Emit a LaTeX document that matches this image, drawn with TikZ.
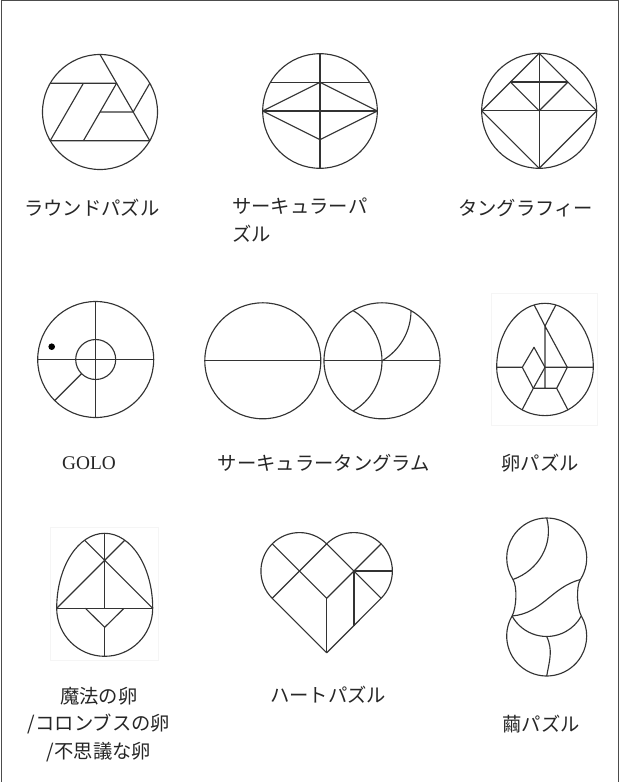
\documentclass[tikz,border=0pt]{standalone}
\usepackage{fontspec}
\setmainfont{Liberation Serif}
\newfontfamily\jpfont{Noto Sans CJK JP}
\definecolor{inkgray}{rgb}{0.2,0.2,0.2}
\definecolor{framegray}{rgb}{0.3,0.3,0.3}
\definecolor{boxgray}{rgb}{0.96,0.96,0.96}
\tikzset{
  puzzle/.style={
    draw=inkgray,
    line width=0.85pt,
    line join=round
  },
  faint/.style={
    draw=boxgray,
    line width=0.6pt
  },
  caption/.style={
    font=\jpfont\fontsize{14.5}{20.5}\selectfont,
    inner sep=0pt,
    text=black!85
  }
}
\begin{document}
\begin{tikzpicture}[x=0.75pt,y=0.75pt]
\useasboundingbox (0,0) rectangle (619,-782);
\draw[framegray,line width=0.75pt] (1,-782) -- (1,-0.5) -- (618,-0.5) -- (618,-782);

% ラウンドパズル
\begin{scope}[shift={(100,-112)}]
  \draw[puzzle] (0,0) circle[radius=57.5];
  \draw[puzzle] (90:57.5) -- (-30:57.5) -- (210:57.5);
  \draw[puzzle] (150:57.5) -- (16.6,28.75) -- (-16.6,-28.75);
  \draw[puzzle] (210:57.5) -- (-16.6,28.75);
  \draw[puzzle] (0,0) -- (33.2,0) -- (30:57.5);
\end{scope}

% サーキュラーパズル
\begin{scope}[shift={(320,-111)}]
  \draw[puzzle] (0,0) circle[radius=57.3];
  \draw[puzzle] (90:57.3) -- (270:57.3);
  \draw[puzzle] (180:57.3) -- (0:57.3);
  \draw[puzzle] (150:57.3) -- (30:57.3);
  \draw[puzzle] (180:57.3) -- (0,28.65) -- (0:57.3) -- (0,-28.65) -- cycle;
\end{scope}

% タングラフィー
\begin{scope}[shift={(539.2,-110.8)}]
  \draw[puzzle] (0,0) circle[radius=57.5];
  \draw[puzzle] (90:57.5) -- (270:57.5);
  \draw[puzzle] (180:57.5) -- (0:57.5);
  \draw[puzzle] (0:57.5) -- (90:57.5) -- (180:57.5) -- (270:57.5) -- cycle;
  \draw[puzzle] (-28.75,28.75) -- (28.75,28.75);
  \draw[puzzle] (-28.75,28.75) -- (0,0) -- (28.75,28.75);
\end{scope}

% GOLO
\begin{scope}[shift={(95.7,-359.5)}]
  \draw[puzzle] (0,0) circle[radius=58];
  \draw[puzzle] (0,0) circle[radius=20];
  \draw[puzzle] (90:58) -- (270:58);
  \draw[puzzle] (180:58) -- (0:58);
  \draw[puzzle] (225:20) -- (225:58);
  \fill[black] (-44,12.8) circle[radius=3.3];
\end{scope}

% サーキュラータングラム
\begin{scope}[shift={(262.8,-360.8)}]
  \draw[puzzle] (0,0) circle[radius=58];
  \draw[puzzle] (180:58) -- (0:58);
\end{scope}
\begin{scope}[shift={(382,-360.8)}]
  \draw[puzzle] (0,0) circle[radius=58];
  \draw[puzzle] (180:58) -- (0:58);
  \draw[puzzle] (120:58) arc[start angle=60,end angle=-60,radius=58];
  \draw[puzzle] (0,0) arc[start angle=-60,end angle=0,radius=58];
\end{scope}

% 卵パズル
\begin{scope}[shift={(545,-367.3)}]
  \draw[faint] (-53.3,74) rectangle (52.3,-57.7);
  \begin{scope}
    \clip (-48.3,0) arc[start angle=180,end angle=360,radius=48.3]
      arc[start angle=0,end angle=180,x radius=48.3,y radius=64] -- cycle;
    \draw[puzzle] (-17,74.3) -- (0,41.3) -- (17,74.3);
    \draw[puzzle] (-11.7,-21) -- (-32,-60);
    \draw[puzzle] (11.7,-21) -- (32,-60);
  \end{scope}
  \draw[puzzle] (-48.3,0) -- (-22.7,0) -- (-11,20) -- (0,0) -- (48.3,0);
  \draw[puzzle] (-22.7,0) -- (-11.7,-21) -- (11.7,-21) -- (22.3,0) -- (0,41.3) -- (0,-21);
  \draw[puzzle] (0,0) -- (-11.7,-21);
  \draw[puzzle] (-48.3,0) arc[start angle=180,end angle=360,radius=48.3]
    arc[start angle=0,end angle=180,x radius=48.3,y radius=64] -- cycle;
\end{scope}

% 魔法の卵
\begin{scope}[shift={(104.7,-608.3)}]
  \draw[faint] (-54.7,81.3) rectangle (53.6,-51.7);
  \begin{scope}
    \clip (-48,0) arc[start angle=180,end angle=360,radius=48]
      arc[start angle=0,end angle=180,x radius=48,y radius=75] -- cycle;
    \draw[puzzle] (-48,0) -- (40,88);
    \draw[puzzle] (48,0) -- (-40,88);
  \end{scope}
  \draw[puzzle] (-48,0) -- (48,0);
  \draw[puzzle] (0,75) -- (0,0);
  \draw[puzzle] (-19.3,0) -- (0,-19) -- (19.3,0);
  \draw[puzzle] (0,-19) -- (0,-48);
  \draw[puzzle] (-48,0) arc[start angle=180,end angle=360,radius=48]
    arc[start angle=0,end angle=180,x radius=48,y radius=75] -- cycle;
\end{scope}

% ハートパズル
\begin{scope}[shift={(326.7,-598.3)}]
  \draw[puzzle] (0,-54.5) -- (-54.5,0)
    arc[start angle=225,end angle=45,radius=38.5]
    arc[start angle=135,end angle=-45,radius=38.5] -- cycle;
  \draw[puzzle] (-54.5,0) -- (0,54.5) -- (54.5,0);
  \draw[puzzle] (-54.5,54.5) -- (0,0) -- (54.5,54.5);
  \draw[puzzle] (0,0) -- (0,-54.5);
  \draw[puzzle] (27.25,27.25) -- (27.25,-27.25);
  \draw[puzzle] (27.25,27.25) -- (65.75,27.25);
\end{scope}

% 繭パズル
\begin{scope}[shift={(546.7,-597)}]
  \draw[puzzle] (33.74,17.51) arc[start angle=-32.5,end angle=212.5,radius=40]
    to[out=302.5,in=60,looseness=0.6] (-34.64,-19)
    arc[start angle=150,end angle=390,radius=40]
    to[out=120,in=237.5,looseness=0.6] cycle;
  \draw[puzzle] (0,79) to[out=-75,in=20] (-33.74,17.51);
  \draw[puzzle] (33.74,17.51) to[out=195,in=5] (-34.64,-19);
  \draw[puzzle] (-34.64,-19) arc[start angle=208.8,end angle=331.2,radius=39.5];
  \draw[puzzle] (0,-39.5) to[out=-65,in=80] (0,-79);
\end{scope}

% captions
\node[caption,anchor=west] (roundlabel) at (24,-208) {ラウンドパズル};
\node[caption,anchor=north west,align=left] (circularlabel) at (232,-198) {サーキュラーパ\\ズル};
\node[caption,anchor=west] (tangraphylabel) at (458,-208) {タングラフィー};
\node[caption,font=\fontsize{14.5}{20.5}\selectfont] (gololabel) at (89,-463) {GOLO};
\node[caption] (tangramlabel) at (324,-463) {サーキュラータングラム};
\node[caption] (egglabel) at (540,-463) {卵パズル};
\node[caption,anchor=north,align=center] (magiclabel) at (99,-687) {魔法の卵\\/コロンブスの卵\\/不思議な卵};
\node[caption] (heartlabel) at (328,-695) {ハートパズル};
\node[caption] (mayulabel) at (541,-724) {繭パズル};
\end{tikzpicture}
\end{document}
